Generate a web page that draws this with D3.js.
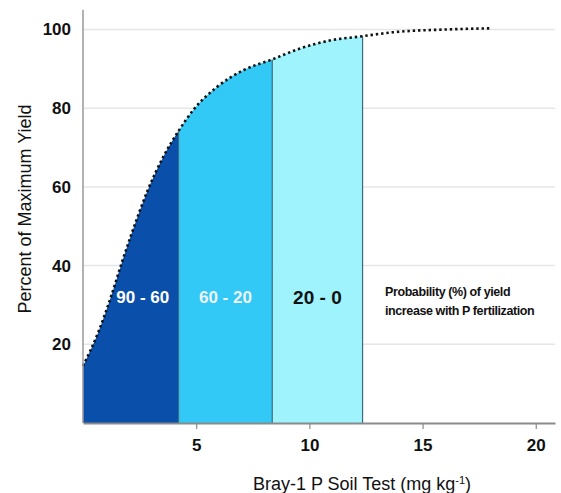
<!DOCTYPE html>
<html>
<head>
<meta charset="utf-8">
<script src="https://cdn.jsdelivr.net/npm/d3@7"></script>
<style>
  html, body { margin: 0; padding: 0; background: #fff; }
  svg { display: block; font-family: "Liberation Sans", Arial, sans-serif; }
</style>
</head>
<body>
<svg id="chart" width="561" height="493"></svg>
<script>
// Yield response curve: Bray-1 P (mg/kg) vs percent of maximum yield
const soilP    = [0, 0.67, 1.26, 1.7, 2.14, 2.5, 2.82, 3.2, 3.56, 4.22, 4.88, 5.9, 7.1, 8.36, 9.6, 10.9, 12.35, 13.7, 16, 18];
const yieldPct = [14.5, 23, 32.5, 40.5, 48, 53.8, 58.6, 63.6, 67.8, 74.2, 79.6, 85.3, 89.7, 92.4, 95.2, 97.2, 98.3, 99.3, 100, 100.3];

// Soil-test classes and the probability of a yield increase in each
const zoneBreaks = [0, 4.22, 8.36, 12.35];
const zoneLabels = ["90 - 60", "60 - 20", "20 - 0"];
const zoneColors = ["#0a50aa", "#33c9f7", "#9ef3fc"];
const zoneTextColors = ["#ffffff", "#eef2f4", "#111111"];

const xTicks = [5, 10, 15, 20];
const yTicks = [20, 40, 60, 80, 100];

const svg = d3.select("#chart");
const x = d3.scaleLinear().domain([0, 20.85]).range([83, 555]);
const y = d3.scaleLinear().domain([0, 100]).range([423, 29.5]);

const pts = soilP.map((p, i) => ({ p, v: yieldPct[i] }));
const curve = d3.curveMonotoneX;

// horizontal grid
svg.append("g").selectAll("line").data(yTicks).join("line")
  .attr("x1", x(0)).attr("x2", x.range()[1])
  .attr("y1", d => y(d)).attr("y2", d => y(d))
  .attr("stroke", "#e6e6e6").attr("stroke-width", 1.5);

// filled zones under the curve
const defs = svg.append("defs");
const area = d3.area().x(d => x(d.p)).y0(y(0)).y1(d => y(d.v)).curve(curve);
zoneLabels.forEach((lab, i) => {
  const x0 = zoneBreaks[i], x1 = zoneBreaks[i + 1];
  defs.append("clipPath").attr("id", "zone" + i)
    .append("rect")
    .attr("x", x(x0)).attr("y", 0)
    .attr("width", x(x1) - x(x0)).attr("height", y(0));
  svg.append("path").datum(pts)
    .attr("d", area)
    .attr("fill", zoneColors[i])
    .attr("clip-path", `url(#zone${i})`);
});

// zone boundaries
svg.append("g").selectAll("line").data(zoneBreaks.slice(1)).join("line")
  .attr("x1", d => x(d)).attr("x2", d => x(d))
  .attr("y1", y(0))
  .attr("y2", d => y(yieldPct[soilP.indexOf(d)]))
  .attr("stroke", "#3f6a80").attr("stroke-width", 1.2);

// zone labels
svg.append("g").selectAll("text").data(zoneLabels).join("text")
  .attr("x", (d, i) => x((zoneBreaks[i] + zoneBreaks[i + 1]) / 2) + (i === 0 ? 12 : 0))
  .attr("y", y(32))
  .attr("dy", "0.35em")
  .attr("text-anchor", "middle")
  .attr("font-weight", "bold")
  .attr("font-size", (d, i) => i === 2 ? 19 : 17)
  .attr("fill", (d, i) => zoneTextColors[i])
  .text(d => d);

// dotted response curve
const line = d3.line().x(d => x(d.p)).y(d => y(d.v)).curve(curve);
svg.append("path").datum(pts)
  .attr("d", line)
  .attr("fill", "none")
  .attr("stroke", "#111")
  .attr("stroke-width", 2.6)
  .attr("stroke-dasharray", "2.4,2.9");

// axes
svg.append("line")
  .attr("x1", x(0)).attr("x2", x(0))
  .attr("y1", y(0)).attr("y2", y(105))
  .attr("stroke", "#999").attr("stroke-width", 1.5);

const xAxis = svg.append("g").attr("transform", `translate(0,${y(0)})`)
  .call(d3.axisBottom(x).tickValues(xTicks).tickSize(6).tickPadding(10).tickSizeOuter(0));
xAxis.select(".domain").attr("stroke", "#8a8a8a").attr("stroke-width", 2);
xAxis.selectAll(".tick line").attr("stroke", "#8a8a8a").attr("stroke-width", 1.2);
xAxis.selectAll(".tick text")
  .attr("font-size", 17).attr("font-weight", "bold").attr("fill", "#111")
  .attr("font-family", "Liberation Sans, Arial, sans-serif");

const yAxis = svg.append("g").attr("transform", `translate(${x(0) - 12},0)`)
  .call(d3.axisLeft(y).tickValues(yTicks).tickSize(0).tickPadding(0));
yAxis.select(".domain").remove();
yAxis.selectAll(".tick text")
  .attr("font-size", 17).attr("font-weight", "bold").attr("fill", "#111")
  .attr("font-family", "Liberation Sans, Arial, sans-serif");

// axis titles
svg.append("text")
  .attr("x", 362).attr("y", 490)
  .attr("text-anchor", "middle")
  .attr("font-size", 18).attr("fill", "#111")
  .text("Bray-1 P Soil Test (mg kg")
  .append("tspan").attr("baseline-shift", "super").attr("font-size", 11).text("-1")
  .select(function () { return this.parentNode; })
  .append("tspan").text(")");

svg.append("text")
  .attr("transform", "translate(31,209) rotate(-90)")
  .attr("text-anchor", "middle")
  .attr("font-size", 18).attr("fill", "#111")
  .text("Percent of Maximum Yield");

// annotation
const note = svg.append("text")
  .attr("x", 385).attr("y", 296)
  .attr("font-size", 12.5).attr("font-weight", "bold").attr("fill", "#111")
  .attr("letter-spacing", -0.4);
note.append("tspan").attr("x", 385).text("Probability (%) of yield");
note.append("tspan").attr("x", 385).attr("dy", 19).text("increase with P fertilization");
</script>
</body>
</html>
